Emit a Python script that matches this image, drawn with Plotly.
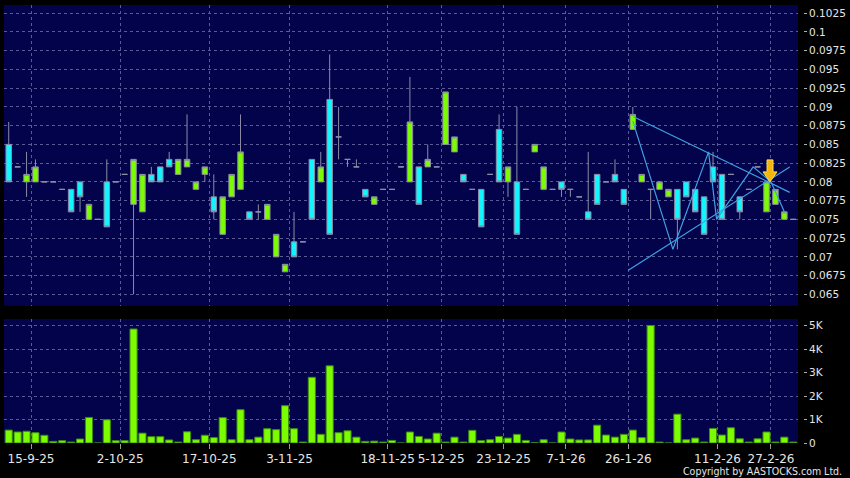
import plotly.graph_objects as go

# ---------------- data ----------------
opens = [0.085, 0.082, 0.080, 0.080, 0.080, 0.080, 0.079, 0.079, 0.080, 0.075,
         0.075, 0.080, 0.080, 0.081, 0.077, 0.076, 0.081, 0.082, 0.083, 0.081,
         0.082, 0.079, 0.081, 0.078, 0.073, 0.078, 0.079, 0.076, 0.076, 0.075,
         0.070, 0.068, 0.072, 0.072, 0.083, 0.080, 0.091, 0.086, 0.083, 0.082,
         0.079, 0.077, 0.079, 0.079, 0.082, 0.080, 0.082, 0.082, 0.082, 0.085,
         0.084, 0.081, 0.079, 0.079, 0.081, 0.087, 0.080, 0.080, 0.079, 0.084,
         0.079, 0.079, 0.080, 0.079, 0.078, 0.076, 0.081, 0.080, 0.081, 0.079,
         0.087, 0.080, 0.079, 0.079, 0.078, 0.079, 0.080, 0.079, 0.078, 0.082,
         0.081, 0.081, 0.078, 0.079, 0.082, 0.076, 0.077, 0.075, 0.075]
closes = [0.080, 0.082, 0.081, 0.082, 0.080, 0.080, 0.079, 0.076, 0.078, 0.077,
          0.075, 0.074, 0.080, 0.081, 0.083, 0.081, 0.080, 0.080, 0.082, 0.083,
          0.083, 0.080, 0.082, 0.076, 0.078, 0.081, 0.084, 0.075, 0.076, 0.077,
          0.073, 0.069, 0.070, 0.072, 0.075, 0.082, 0.073, 0.086, 0.083, 0.082,
          0.078, 0.078, 0.079, 0.079, 0.082, 0.088, 0.077, 0.083, 0.082, 0.092,
          0.086, 0.080, 0.079, 0.074, 0.081, 0.080, 0.082, 0.073, 0.079, 0.085,
          0.082, 0.079, 0.079, 0.079, 0.078, 0.075, 0.077, 0.080, 0.080, 0.077,
          0.089, 0.081, 0.079, 0.080, 0.079, 0.075, 0.078, 0.076, 0.073, 0.080,
          0.075, 0.081, 0.076, 0.079, 0.082, 0.080, 0.079, 0.076, 0.075]
highs = [0.088, 0.082, 0.084, 0.083, 0.080, 0.080, 0.079, 0.079, 0.080, 0.077,
         0.075, 0.083, 0.080, 0.081, 0.083, 0.081, 0.082, 0.082, 0.084, 0.083,
         0.089, 0.080, 0.082, 0.081, 0.078, 0.081, 0.089, 0.076, 0.077, 0.077,
         0.073, 0.069, 0.076, 0.072, 0.083, 0.084, 0.097, 0.090, 0.083, 0.083,
         0.079, 0.078, 0.079, 0.079, 0.082, 0.094, 0.082, 0.085, 0.082, 0.092,
         0.086, 0.081, 0.079, 0.079, 0.081, 0.089, 0.082, 0.090, 0.079, 0.085,
         0.082, 0.079, 0.080, 0.079, 0.078, 0.084, 0.081, 0.080, 0.083, 0.079,
         0.090, 0.081, 0.079, 0.080, 0.079, 0.079, 0.080, 0.079, 0.078, 0.084,
         0.081, 0.081, 0.078, 0.079, 0.082, 0.080, 0.079, 0.076, 0.075]
lows = [0.080, 0.082, 0.078, 0.080, 0.080, 0.080, 0.079, 0.076, 0.076, 0.075,
        0.075, 0.074, 0.080, 0.081, 0.065, 0.076, 0.080, 0.080, 0.082, 0.081,
        0.082, 0.079, 0.080, 0.075, 0.073, 0.078, 0.079, 0.075, 0.075, 0.075,
        0.070, 0.068, 0.070, 0.072, 0.075, 0.080, 0.073, 0.083, 0.082, 0.082,
        0.078, 0.077, 0.079, 0.079, 0.082, 0.080, 0.077, 0.082, 0.082, 0.085,
        0.084, 0.080, 0.079, 0.074, 0.081, 0.080, 0.078, 0.073, 0.079, 0.084,
        0.079, 0.079, 0.078, 0.078, 0.078, 0.075, 0.077, 0.080, 0.080, 0.077,
        0.087, 0.080, 0.075, 0.079, 0.078, 0.071, 0.078, 0.076, 0.073, 0.080,
        0.075, 0.081, 0.075, 0.079, 0.082, 0.076, 0.077, 0.075, 0.075]
volumes = [550, 470, 500, 440, 330, 70, 100, 40, 170, 1090,
           0, 990, 100, 100, 4860, 420, 270, 270, 130, 40,
           480, 140, 330, 230, 1080, 140, 1420, 140, 250, 610,
           570, 1590, 610, 40, 2800, 370, 3290, 440, 520, 250,
           70, 80, 40, 110, 0, 470, 280, 170, 420, 40,
           250, 40, 540, 100, 140, 280, 210, 370, 110, 10,
           140, 0, 470, 170, 130, 130, 760, 340, 250, 370,
           550, 230, 5010, 40, 0, 1230, 140, 210, 40, 620,
           340, 650, 180, 40, 180, 470, 40, 250, 40]

date_labels = ["15-9-25", "2-10-25", "17-10-25", "3-11-25", "18-11-25", "5-12-25",
               "23-12-25", "7-1-26", "26-1-26", "11-2-26", "27-2-26"]
date_bar_index = [2, 12, 22, 31, 42, 48, 55, 62, 69, 79, 85]

price_ticks = [0.065, 0.0675, 0.07, 0.0725, 0.075, 0.0775, 0.08, 0.0825, 0.085,
               0.0875, 0.09, 0.0925, 0.095, 0.0975, 0.1, 0.1025]
price_tick_labels = ["0.065", "0.0675", "0.07", "0.0725", "0.075", "0.0775", "0.08",
                     "0.0825", "0.085", "0.0875", "0.09", "0.0925", "0.095", "0.0975",
                     "0.1", "0.1025"]
vol_ticks = [0, 1000, 2000, 3000, 4000, 5000]
vol_tick_labels = ["0", "1K", "2K", "3K", "4K", "5K"]

# pattern (triangle) lines drawn on the chart
upper_line_x = [70.07, 87.6]
upper_line_y = [0.0887, 0.0786]
lower_line_x = [69.5, 87.6]
lower_line_y = [0.0682, 0.0820]
zigzag_x = [70, 74.5, 78.5, 79.4, 83.5, 85.5, 87]
zigzag_y = [0.0881, 0.0710, 0.0840, 0.0750, 0.0820, 0.0800, 0.0760]
signal_bar = 85

# ---------------- styles ----------------
NAVY = "#03034c"
GREEN = "#7cfc00"
CYAN = "#14f4ff"
EDGE = "#8c8ca6"
GRID = "#5a5a96"
TXT = "#e6e6e6"
LINE_BLUE = "#3ea2e2"
FONT = "DejaVu Sans"

idx = list(range(len(opens)))
xr = [-0.53, 88.53]
grid_x = [b + 0.5 for b in date_bar_index]

fig = go.Figure()
fig.add_trace(go.Candlestick(
    x=idx, open=opens, high=highs, low=lows, close=closes,
    increasing=dict(fillcolor=GREEN, line=dict(color=EDGE, width=1)),
    decreasing=dict(fillcolor=CYAN, line=dict(color=EDGE, width=1)),
    whiskerwidth=0, xaxis="x", yaxis="y", showlegend=False, hoverinfo="skip"))

for lx, ly in [(upper_line_x, upper_line_y), (lower_line_x, lower_line_y), (zigzag_x, zigzag_y)]:
    fig.add_trace(go.Scatter(x=lx, y=ly, mode="lines", line=dict(color=LINE_BLUE, width=1.2),
                             xaxis="x", yaxis="y", showlegend=False, hoverinfo="skip"))

fig.add_trace(go.Bar(
    x=idx, y=volumes, width=0.8, xaxis="x2", yaxis="y2",
    marker=dict(color=GREEN, line=dict(color="#3d8a10", width=1)),
    showlegend=False, hoverinfo="skip"))

# yellow down arrow above the signal candle
fig.add_shape(type="path", xref="x", yref="y", xsizemode="pixel", ysizemode="pixel",
              xanchor=signal_bar, yanchor=highs[signal_bar],
              path="M 3.5,0 L -3.5,10 L 0.5,10 L 0.5,22 L 6.5,22 L 6.5,10 L 10.5,10 Z",
              fillcolor="#f5b50c", line=dict(color="#ffd85a", width=1), layer="above")

axis_common = dict(showgrid=True, gridcolor=GRID, griddash="3px,3px", gridwidth=1,
                   zeroline=False, showline=False)

fig.update_layout(
    width=850, height=478,
    margin=dict(l=4, r=50, t=5, b=35),
    paper_bgcolor="black", plot_bgcolor=NAVY,
    font=dict(family=FONT, color=TXT),
    bargap=0.2,
    boxgap=0.12,
    xaxis=dict(domain=[0, 1], anchor="y", range=xr, tickvals=grid_x, showticklabels=False,
               ticks="", rangeslider=dict(visible=False), **axis_common),
    xaxis2=dict(domain=[0, 1], anchor="y2", range=xr, tickvals=grid_x, ticktext=date_labels,
                ticks="outside", ticklen=5, tickcolor="#9a9a9a",
                tickfont=dict(size=12, color=TXT, family=FONT), **axis_common),
    yaxis=dict(domain=[0.3128, 1], range=[0.06344, 0.1036], side="right",
               anchor="free", position=1, shift=5,
               tickvals=price_ticks, ticktext=price_tick_labels,
               ticks="outside", ticklen=3, tickcolor="#b0b0b0",
               tickfont=dict(size=10.5, color=TXT, family=FONT), **axis_common),
    yaxis2=dict(domain=[0, 0.2831], range=[0, 5285], side="right",
                anchor="free", position=1, shift=5,
                tickvals=vol_ticks, ticktext=vol_tick_labels,
                ticks="outside", ticklen=3, tickcolor="#b0b0b0",
                tickfont=dict(size=10.5, color=TXT, family=FONT), **axis_common),
    annotations=[dict(text="Copyright by AASTOCKS.com Ltd.", xref="paper", yref="paper",
                      x=1.0578, y=-0.0646, xanchor="right", yanchor="middle", showarrow=False,
                      font=dict(size=10.5, color=TXT, family="DejaVu Sans Condensed, DejaVu Sans"))],
)

fig.write_html("out.html", config={"displayModeBar": False},
               post_script="document.body.style.margin='0';document.body.style.background='black';")
